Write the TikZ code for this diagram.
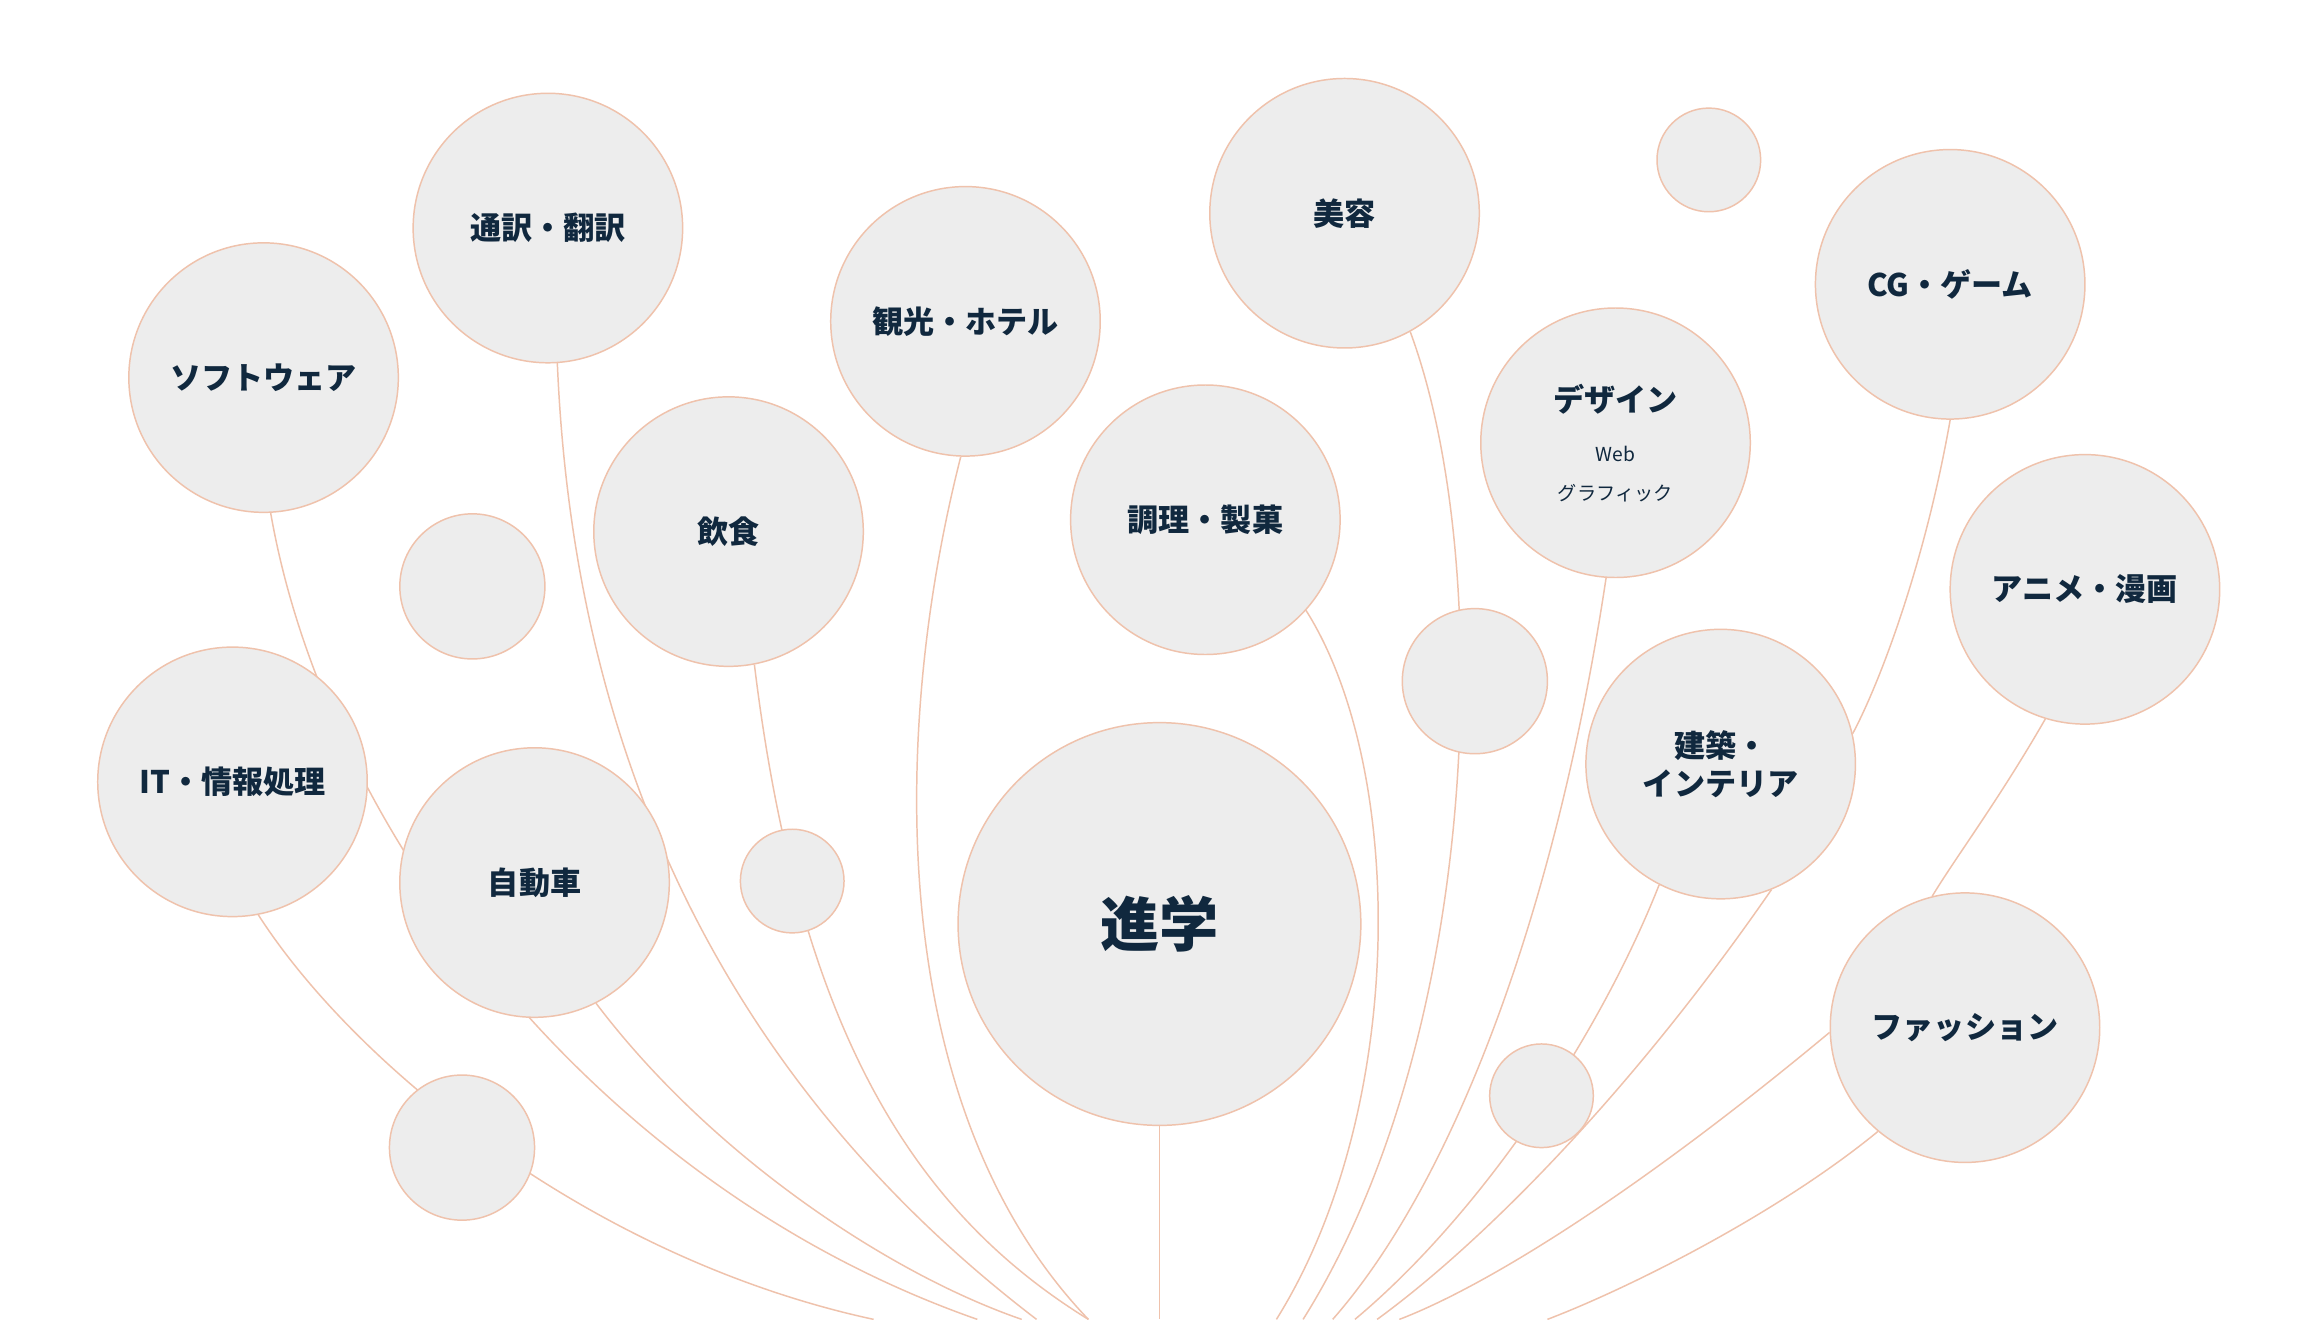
\documentclass[tikz,border=0pt]{standalone}
\usepackage{fontspec}
\newfontfamily\jp{Noto Sans CJK JP}
\usetikzlibrary{backgrounds}
\definecolor{bubblefill}{HTML}{EDEDED}
\definecolor{bubbleline}{HTML}{EFC2AC}
\definecolor{labelink}{HTML}{10283E}
\tikzset{
  bubble/.style={circle,draw=bubbleline,fill=bubblefill,line width=1pt,inner sep=0pt,
    minimum size=182pt,font=\jp\bfseries\fontsize{21}{26}\selectfont,text=labelink,align=center},
  dot/.style={bubble,minimum size=#1},
  stem/.style={draw=bubbleline,line width=1pt}
}
\newcommand{\subtext}{\mdseries\fontsize{13}{16}\selectfont}
\begin{document}
\begin{tikzpicture}[x=1pt,y=-1pt]
\useasboundingbox (0,0) rectangle (1560,891);

% bubbles
\node[bubble] (soft) at (178,255) {ソフトウェア};
\node[bubble] (trans) at (370,154) {通訳・翻訳};
\node[bubble] (tour) at (652,217) {観光・ホテル};
\node[bubble] (beauty) at (908,144) {美容};
\node[dot=70pt] (s1) at (1154,108) {};
\node[bubble] (cg) at (1317,192) {CG・ゲーム};
\node[bubble] (design) at (1091,299) {デザイン\\[8pt]\subtext Web\\\subtext グラフィック};
\node[bubble] (cook) at (814,351) {調理・製菓};
\node[bubble] (food) at (492,359) {飲食};
\node[dot=98pt] (s2) at (319,396) {};
\node[bubble] (anime) at (1408,398) {アニメ・漫画};
\node[dot=98pt] (s3) at (996,460) {};
\node[bubble] (it) at (157,528) {IT・情報処理};
\node[bubble] (arch) at (1162,516) {建築・\\インテリア};
\node[bubble] (car) at (361,596) {自動車};
\node[dot=70pt] (s4) at (535,595) {};
\node[bubble,minimum size=272pt,font=\jp\bfseries\fontsize{40}{48}\selectfont] (main) at (783,624) {進学};
\node[bubble] (fashion) at (1327,694) {ファッション};
\node[dot=70pt] (s5) at (1041,740) {};
\node[dot=98pt] (s6) at (312,775) {};

% ends at the bottom edge
\coordinate (b1) at (590,891);
\coordinate (b2) at (660,891);
\coordinate (b3) at (700,891);
\coordinate (b4) at (690,891);
\coordinate (b5) at (735,891);
\coordinate (b6) at (783,891);
\coordinate (b7) at (862,891);
\coordinate (b8) at (880,891);
\coordinate (b9) at (900,891);
\coordinate (b10) at (915,891);
\coordinate (b11) at (930,891);
\coordinate (b12) at (945,891);
\coordinate (b13) at (1045,891);

\begin{scope}[on background layer]
\fill[white] (0,0) rectangle (1560,891);
% stems
\draw[stem] (it.-79) .. controls (240,720) and (400,850) .. (b1);
\draw[stem] (soft.-87) .. controls (220,560) and (400,800) .. (b2);
\draw[stem] (trans.-86) .. controls (385,450) and (450,700) .. (b3);
\draw[stem] (car.-63) .. controls (480,780) and (600,860) .. (b4);
\draw[stem] (food.-79) .. controls (540,700) and (620,820) .. (b5);
\draw[stem] (tour.-92) .. controls (600,500) and (600,750) .. (b5);
\draw[stem] (main.-90) -- (b6);
\draw[stem] (cook.-42) .. controls (950,520) and (950,750) .. (b7);
\draw[stem] (beauty.-61) .. controls (1010,380) and (1000,700) .. (b8);
\draw[stem] (design.-94) .. controls (1050,620) and (980,800) .. (b9);
\draw[stem] (arch.-117) .. controls (1080,700) and (1000,820) .. (b10);
\draw[stem] (arch.-68) .. controls (1100,740) and (1000,840) .. (b11);
\draw[stem] (cg.-90) .. controls (1300,380) and (1270,460) .. (arch.13);
\draw[stem] (anime.-107) .. controls (1350,540) and (1320,580) .. (fashion.104);
\draw[stem] (fashion.182) .. controls (1100,810) and (1000,870) .. (b12);
\draw[stem] (fashion.-130) .. controls (1200,820) and (1100,870) .. (b13);
\end{scope}
\end{tikzpicture}
\end{document}
